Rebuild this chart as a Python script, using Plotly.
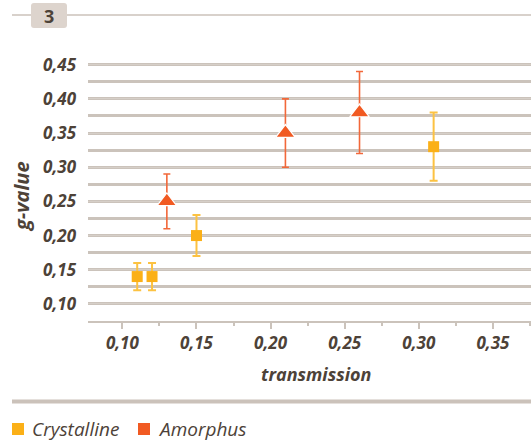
import plotly.graph_objects as go

# ---- data ----
cryst_x = [0.11, 0.12, 0.15, 0.31]
cryst_y = [0.14, 0.14, 0.20, 0.33]
cryst_err = [0.02, 0.02, 0.03, 0.05]

amorph_x = [0.13, 0.21, 0.26]
amorph_y = [0.25, 0.35, 0.38]
amorph_err = [0.04, 0.05, 0.06]

x_ticks = [0.10, 0.15, 0.20, 0.25, 0.30, 0.35]
y_ticks = [0.10, 0.15, 0.20, 0.25, 0.30, 0.35, 0.40, 0.45]

TXT = "#4d4238"
GRID = "#d6cfc8"
GRID2 = "#cbc3bb"
YEL = "#fbb017"
YEL_E = "#fcc242"
RED = "#f15a22"
RED_E = "#f2683a"
FONT = "Open Sans"

W, H = 531, 441
L, R, T, B = 88, 0, 51, 120
PW, PH = W - L - R, H - T - B

def px(x):
    return (x - L) / PW

def py(y):
    return (H - B - y) / PH

fig = go.Figure()

fig.add_trace(go.Scatter(
    x=cryst_x, y=cryst_y, mode="markers", name="Crystalline",
    marker=dict(symbol="square", size=11, color=YEL, line=dict(width=0)),
    error_y=dict(type="data", array=cryst_err, color=YEL_E, thickness=2, width=4),
    showlegend=False,
))
fig.add_trace(go.Scatter(
    x=amorph_x, y=amorph_y, mode="markers", name="Amorphus",
    marker=dict(symbol="triangle-up", size=17, color=RED, line=dict(width=1.2, color="white")),
    error_y=dict(type="data", array=amorph_err, color=RED_E, thickness=1.6, width=3.5),
    showlegend=False,
))

shapes = []
annotations = []

# header line + badge
shapes.append(dict(type="line", xref="paper", yref="paper",
                   x0=px(12), x1=px(531), y0=py(15), y1=py(15),
                   line=dict(color="#cbc2ba", width=1.5), layer="below"))
x0, x1, y0, y1, r = 31, 67, 3, 28, 3
path = (f"M {px(x0+r)},{py(y0)} L {px(x1-r)},{py(y0)} Q {px(x1)},{py(y0)} {px(x1)},{py(y0+r)} "
        f"L {px(x1)},{py(y1-r)} Q {px(x1)},{py(y1)} {px(x1-r)},{py(y1)} "
        f"L {px(x0+r)},{py(y1)} Q {px(x0)},{py(y1)} {px(x0)},{py(y1-r)} "
        f"L {px(x0)},{py(y0+r)} Q {px(x0)},{py(y0)} {px(x0+r)},{py(y0)} Z")
shapes.append(dict(type="path", xref="paper", yref="paper", path=path,
                   fillcolor="#ddd4cd", line=dict(width=0)))
annotations.append(dict(text="<b>3</b>", xref="paper", yref="paper", x=px(49), y=py(16),
                        showarrow=False, font=dict(family=FONT, size=18, color=TXT),
                        xanchor="center", yanchor="middle"))

# legend separator line
shapes.append(dict(type="line", xref="paper", yref="paper",
                   x0=px(12), x1=px(531), y0=py(401.5), y1=py(401.5),
                   line=dict(color="#cbc2ba", width=4)))

# legend
for sx, col, label in [(12, YEL, "Crystalline"), (138, RED, "Amorphus")]:
    shapes.append(dict(type="rect", xref="paper", yref="paper",
                       x0=px(sx), x1=px(sx + 12), y0=py(423), y1=py(435),
                       fillcolor=col, line=dict(width=0)))
    annotations.append(dict(text=f"<i>{label}</i>", xref="paper", yref="paper",
                            x=px(sx + 18), y=py(429), showarrow=False,
                            xanchor="left", yanchor="middle",
                            font=dict(family=FONT, size=19, color=TXT)))

# axis titles
annotations.append(dict(text="<b><i>transmission</i></b>", xref="paper", yref="paper",
                        x=px(316), y=py(374), showarrow=False,
                        xanchor="center", yanchor="middle",
                        font=dict(family=FONT, size=18, color=TXT)))
annotations.append(dict(text="<b><i>g-value</i></b>", xref="paper", yref="paper",
                        x=px(21), y=py(197), showarrow=False, textangle=-90,
                        xanchor="center", yanchor="middle",
                        font=dict(family=FONT, size=20, color=TXT)))

fig.update_layout(
    width=W, height=H,
    margin=dict(l=L, r=R, t=T, b=B),
    paper_bgcolor="white", plot_bgcolor="white",
    separators=", ",
    shapes=shapes, annotations=annotations,
    xaxis=dict(
        range=[0.0768, 0.3757], tickvals=x_ticks, tickformat=".2f",
        showgrid=False, zeroline=False,
        showline=True, linecolor=GRID2, linewidth=2,
        ticks="outside", ticklen=6, tickwidth=2, tickcolor=GRID2,
        minor=dict(dtick=0.025, tick0=0.075, ticks="outside", ticklen=3,
                   tickwidth=2, tickcolor=GRID2),
        tickfont=dict(family=FONT, size=17, color=TXT, weight="bold", style="italic"),
        fixedrange=True,
    ),
    yaxis=dict(
        range=[0.075, 0.47], tickvals=y_ticks, tickformat=".2f",
        showgrid=True, gridcolor=GRID, gridwidth=1.2, zeroline=False,
        showline=False, ticks="", ticklabelstandoff=11,
        minor=dict(dtick=0.025, tick0=0.075, showgrid=True, gridcolor=GRID2, gridwidth=2.5),
        tickfont=dict(family=FONT, size=17, color=TXT, weight="bold", style="italic"),
        fixedrange=True,
    ),
)

fig.write_html("out.html")
